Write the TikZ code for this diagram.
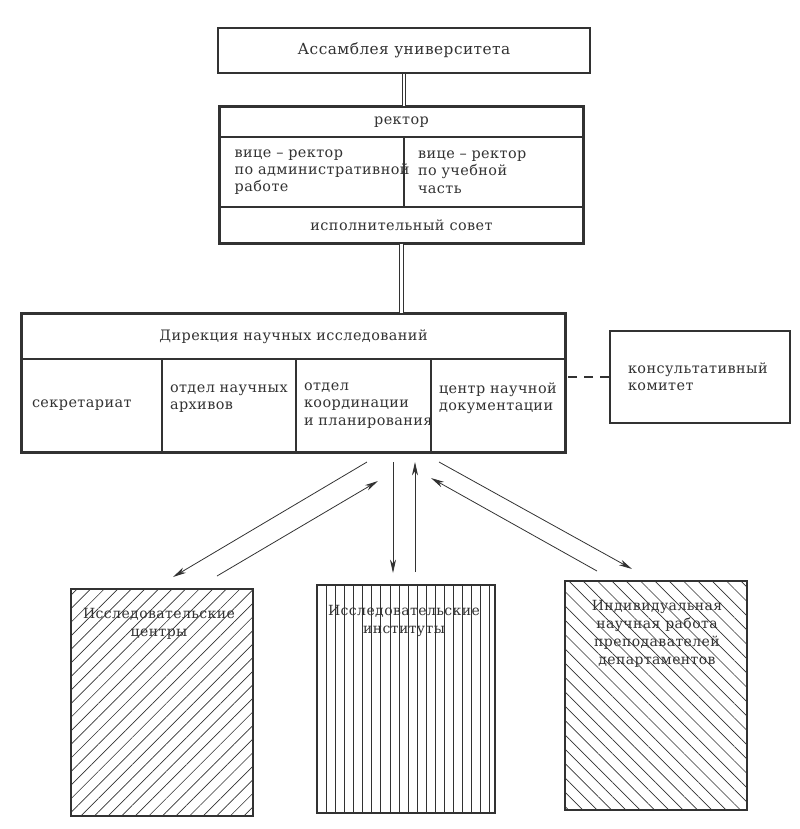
\documentclass[tikz,border=0pt]{standalone}
\usepackage{fontspec}
\setmainfont{DejaVu Serif}[LetterSpace=3]
\usepackage{tikz}
\usetikzlibrary{calc,arrows.meta,patterns.meta}
\definecolor{ink}{RGB}{50,50,50}

\begin{document}
\begin{tikzpicture}[x=0.75pt,y=-0.75pt,font=\fontsize{10.8}{13}\selectfont,color=ink,
      box/.style={draw=ink,line width=1.5pt,inner sep=0pt},
      cell/.style={draw=ink,line width=1pt,align=left},
      mid/.style={draw=ink,line width=1pt,align=center,inner sep=0pt},
      conn/.style={draw=ink,double,double distance=2.2pt,line width=0.7pt},
      link/.style={-{Stealth[length=10pt,width=4.5pt,inset=3pt]},line width=0.6pt},
      lbl/.style={anchor=north,align=center,inner sep=0pt,font=\fontsize{10.5}{13.5}\selectfont}]
    \useasboundingbox (0,0) rectangle (800,829);
    \node[box,minimum width=279pt,minimum height=33.75pt,font=\fontsize{11.5}{14}\selectfont] (assembly) at (404,50.5) {Ассамблея университета};
    \node[mid,minimum width=272.25pt,minimum height=22.5pt] (rector) at (401.5,122) {ректор};
    \node[cell,minimum height=52.5pt,inner xsep=11pt,text width=116pt] (vicA) at (312,172) {вице – ректор\\по~административной\\работе};
    \node[cell,minimum height=52.5pt,inner xsep=10.5pt,text width=113.25pt] (vicB) at (493.5,172) {вице – ректор\\по учебной\\часть};
    \node[mid,minimum width=272.25pt,minimum height=27pt] (council) at (401.5,225) {исполнительный совет};
    \draw[box] (rector.north west) rectangle (council.south east);
    \node[mid,minimum width=407.25pt,minimum height=33.75pt] (dir) at (293.5,336.5) {Дирекция научных исследований};
    \node[cell,minimum height=69.75pt,inner xsep=7.5pt,text width=90pt] (secr) at (92,405.5) {секретариат};
    \node[cell,minimum height=69.75pt,inner xsep=6pt,text width=88.5pt] (arch) at (229,405.5) {отдел~научных\\архивов\\\mbox{}};
    \node[cell,minimum height=69.75pt,inner xsep=6pt,text width=89.25pt] (coord) at (363.5,405.5) {отдел\\координации\\и~планирования};
    \node[cell,minimum height=69.75pt,inner xsep=6pt,text width=88.5pt] (docs) at (498,405.5) {центр~научной\\документации\\\mbox{}};
    \draw[box] (dir.north west) rectangle (docs.south east);
    \node[box,minimum height=69pt,inner xsep=13.5pt,text width=108pt,align=left] (cons) at (700,377) {консультативный\\комитет};
    \draw[draw=ink,line width=0.8pt,dash pattern=on 7pt off 5pt] (cons.west) -- (cons.west -| docs.east);
    \draw[conn] (assembly.south) -- (assembly.south |- rector.north);
    \draw[conn] (council.south) -- (council.south |- dir.north);
    \node[box,minimum width=136.5pt,minimum height=170.25pt,pattern={Lines[angle=45,distance=7.2pt,line width=0.5pt]},pattern color=ink] (centres) at (162,702.5) {};
    \node[box,minimum width=133.5pt,minimum height=171pt,pattern={Lines[angle=90,distance=6.8pt,line width=0.5pt]},pattern color=ink] (insts) at (406,699) {};
    \node[box,minimum width=136.5pt,minimum height=171.75pt,pattern={Lines[angle=-45,distance=7.6pt,line width=0.5pt]},pattern color=ink] (indiv) at (656,695.5) {};
    \node[lbl] (centresT) at ($(centres.north)+(-3,19)$) {Исследовательские\\центры};
    \node[lbl] (instsT) at ($(insts.north)+(-2,20)$) {Исследовательские\\институты};
    \node[lbl] (indivT) at ($(indiv.north)+(1,19)$) {Индивидуальная\\научная работа\\преподавателей\\департаментов};
    \coordinate (a1s) at (367,462);
    \coordinate (a1e) at (173,577);
    \coordinate (a2s) at (217,576);
    \coordinate (a2e) at (378,481);
    \coordinate (a3s) at (393,462);
    \coordinate (a3e) at (393,573);
    \coordinate (a4s) at (415,572);
    \coordinate (a4e) at (415,462);
    \coordinate (a5s) at (597,571);
    \coordinate (a5e) at (431,478);
    \coordinate (a6s) at (439,462);
    \coordinate (a6e) at (632,569);
    \draw[link] (a1s) -- (a1e);
    \draw[link] (a2s) -- (a2e);
    \draw[link] (a3s) -- (a3e);
    \draw[link] (a4s) -- (a4e);
    \draw[link] (a5s) -- (a5e);
    \draw[link] (a6s) -- (a6e);
  \end{tikzpicture}
\end{document}
